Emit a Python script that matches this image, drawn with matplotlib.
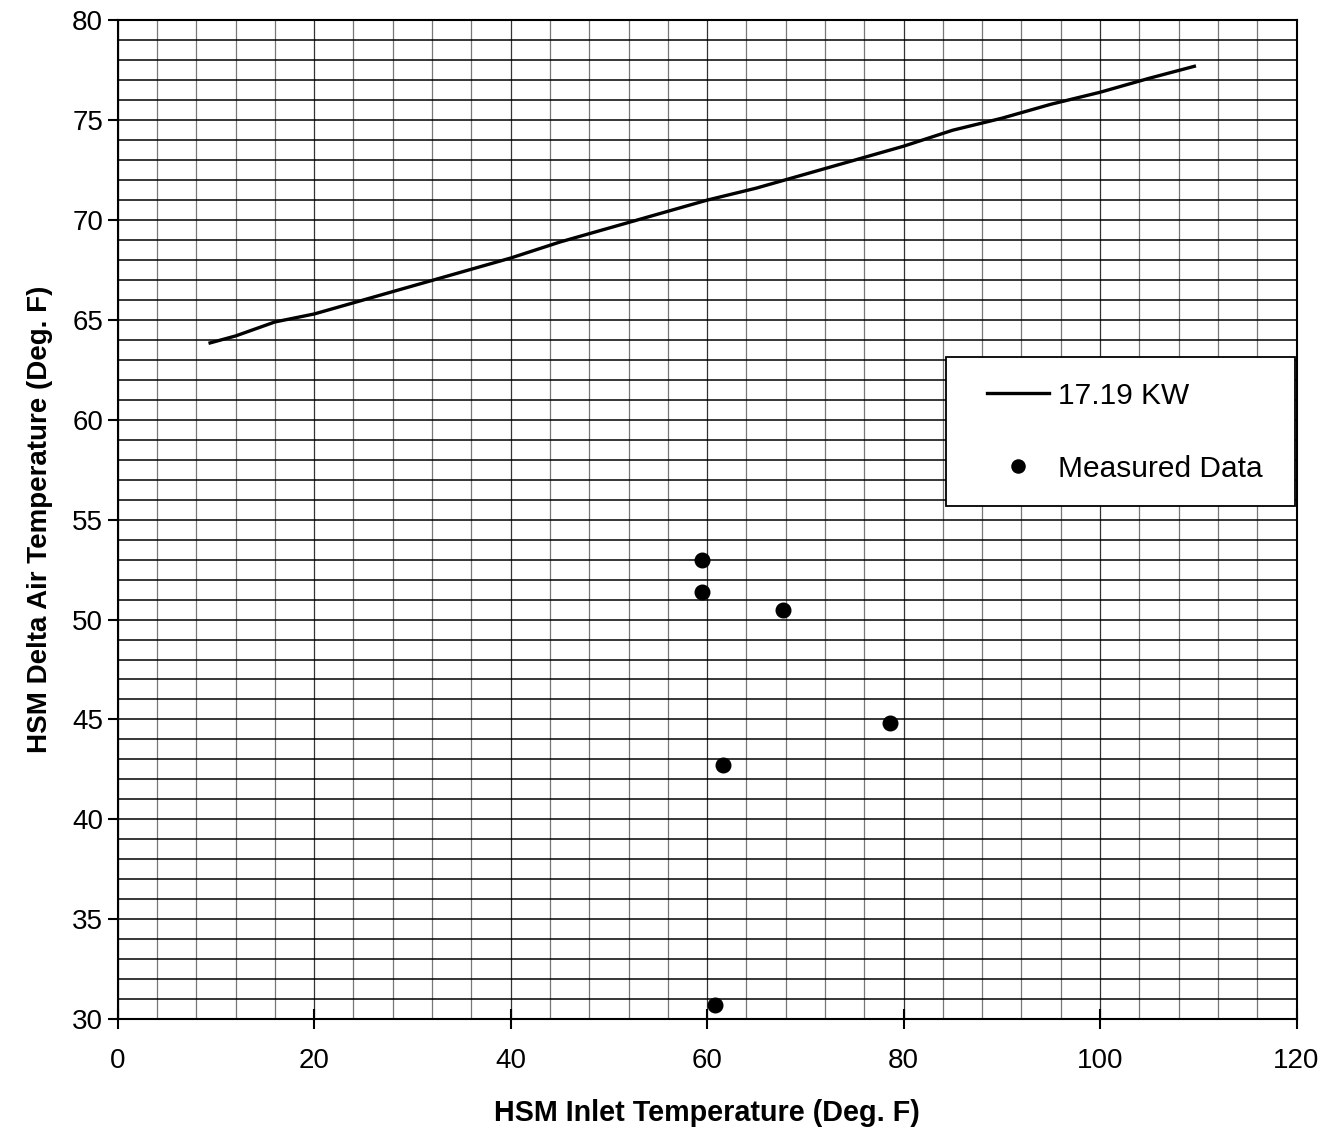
import matplotlib.pyplot as plt
from matplotlib.ticker import MultipleLocator
from matplotlib.patches import Rectangle

plt.rcParams['font.family'] = ['Liberation Sans', 'DejaVu Sans']

# 17.19 KW model curve
curve_x = [9.4, 12, 16, 20, 25, 30, 35, 40, 45, 50, 55, 60, 65, 70, 75, 80, 85, 90, 95, 100, 105, 109.6]
curve_y = [63.85, 64.2, 64.9, 65.3, 66.0, 66.7, 67.4, 68.1, 68.9, 69.6, 70.3, 71.0, 71.6, 72.3, 73.0,
           73.7, 74.5, 75.1, 75.8, 76.4, 77.1, 77.7]

# measured points
meas_x = [59.5, 59.5, 67.7, 78.6, 61.6, 60.8]
meas_y = [53.0, 51.4, 50.5, 44.8, 42.7, 30.7]

fig = plt.figure(figsize=(13.38, 11.31), dpi=100)
ax = fig.add_axes([0.088, 0.099, 0.881, 0.883])

ax.plot(curve_x, curve_y, color='black', lw=2.4, label='17.19 KW')
ax.plot(meas_x, meas_y, 'o', color='black', ms=10.5, label='Measured Data')

ax.set_xlim(0, 120)
ax.set_ylim(30, 80)
ax.xaxis.set_major_locator(MultipleLocator(20))
ax.yaxis.set_major_locator(MultipleLocator(5))
ax.xaxis.set_minor_locator(MultipleLocator(4))
ax.yaxis.set_minor_locator(MultipleLocator(1))
ax.grid(which='minor', axis='y', color='black', lw=1.1)
ax.grid(which='minor', axis='x', color='#777777', lw=0.9)
ax.grid(which='major', axis='y', color='black', lw=1.1)
ax.grid(which='major', axis='x', color='#333333', lw=0.9)
ax.set_axisbelow(True)
ax.tick_params(which='minor', length=0)
ax.tick_params(axis='x', which='major', direction='inout', length=14, width=1.5, labelsize=20, pad=14)
ax.tick_params(axis='y', which='major', direction='out', length=7, width=1.5, labelsize=20)
for s in ax.spines.values():
    s.set_linewidth(1.5)

ax.set_xlabel('HSM Inlet Temperature (Deg. F)', fontsize=20.7, fontweight='bold', labelpad=18)
ax.set_ylabel('HSM Delta Air Temperature (Deg. F)', fontsize=20, fontweight='bold', labelpad=14)

# legend frame drawn separately so the padding can match the original box
ax.add_patch(Rectangle((0.7023, 0.5135), 0.296, 0.149, transform=ax.transAxes,
                       facecolor='white', edgecolor='black', lw=1.3, zorder=4))
leg = ax.legend(loc='upper left', bbox_to_anchor=(0.737, 0.638), borderaxespad=0, borderpad=0,
                fontsize=21.5, frameon=False, handlelength=2.1, handletextpad=0.3,
                labelspacing=1.5, markerscale=0.9)
leg.set_zorder(5)

fig.savefig('out.png', dpi=100)
